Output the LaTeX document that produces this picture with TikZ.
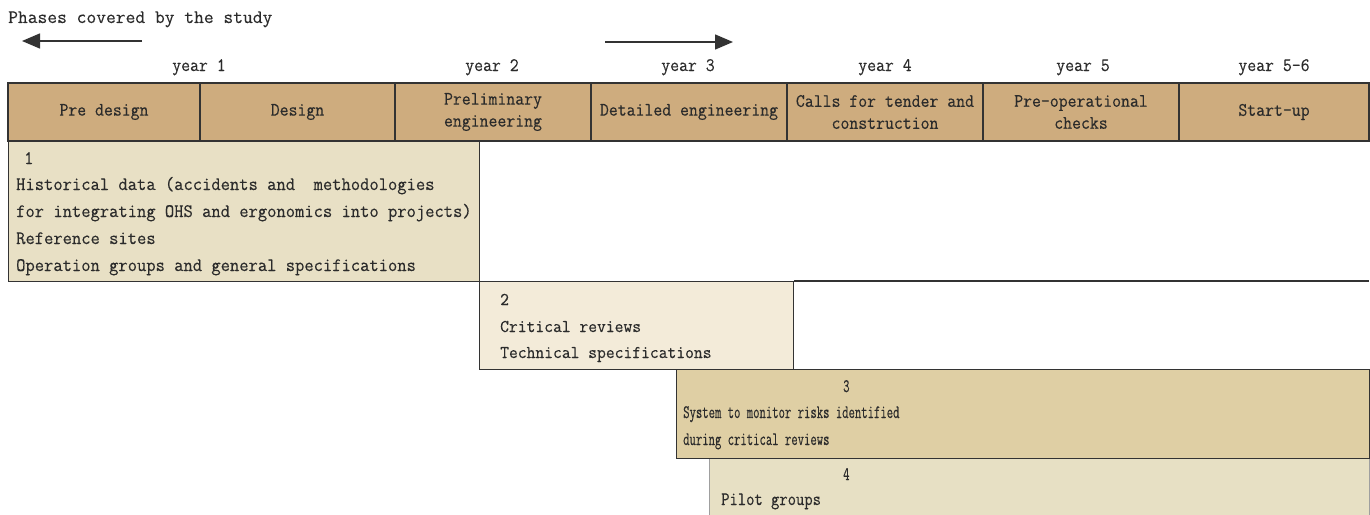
\documentclass[tikz,border=0pt]{standalone}
\usepackage{fontspec}
\newfontfamily\twfont[FakeStretch=0.91,FakeBold=0.3]{Latin Modern Mono}
\newfontfamily\twbody[FakeStretch=0.95,FakeBold=0.3]{Latin Modern Mono}
\newfontfamily\twtitle[FakeStretch=1.0,FakeBold=0.3]{Latin Modern Mono}
\newfontfamily\twcond[FakeStretch=0.65,FakeBold=0.3]{Latin Modern Mono}
\newfontfamily\twsemi[FakeStretch=0.85,FakeBold=0.3]{Latin Modern Mono}
\usetikzlibrary{arrows.meta}
\definecolor{hdr}{HTML}{CEAC7E}
\definecolor{bone}{HTML}{E8E0C5}
\definecolor{btwo}{HTML}{F3EBD9}
\definecolor{bthree}{HTML}{DFCFA4}
\definecolor{bfour}{HTML}{E7E0C4}
\definecolor{lc}{HTML}{333333}
\definecolor{tc}{HTML}{2B2B2B}
\tikzset{
  hcell/.style={draw=lc, line width=1.4pt, fill=hdr, inner sep=0pt, align=center,
    minimum height=58pt, text=tc, font=\twfont\fontsize{19}{22}\selectfont},
  boxnode/.style={draw=lc, line width=1.1pt, inner sep=0pt, anchor=north west},
  txt/.style={anchor=base west, inner sep=0pt, text=tc, font=\twbody\fontsize{19}{22}\selectfont},
  txtsmall/.style={txt, font=\twbody\fontsize{18}{22}\selectfont},
  txtcond/.style={txt, font=\twcond\fontsize{19}{22}\selectfont},
  txtsemi/.style={txt, font=\twsemi\fontsize{19}{22}\selectfont},
  yearlbl/.style={anchor=base, inner sep=0pt, text=tc, font=\twfont\fontsize{19}{22}\selectfont},
  arrowline/.style={line width=1.5pt, draw=lc, -{Triangle[length=18pt,width=15pt]}}
}
\begin{document}
\begin{tikzpicture}[x=1pt,y=-1pt]
\useasboundingbox (0,0) rectangle (1370,514);

% title and arrows
\node[txt, font=\twtitle\fontsize{19}{22}\selectfont] (title) at (8,23) {Phases covered by the study};
\coordinate (la) at (142,41);
\coordinate (lb) at (22,41);
\draw[arrowline] (la) -- (lb);
\coordinate (ra) at (605,42);
\coordinate (rb) at (733,42);
\draw[arrowline] (ra) -- (rb);

% year labels
\node[yearlbl] (y1) at (199,71) {year 1};
\node[yearlbl] (y2) at (492,71) {year 2};
\node[yearlbl] (y3) at (688,71) {year 3};
\node[yearlbl] (y4) at (885,71) {year 4};
\node[yearlbl] (y5) at (1083,71) {year 5};
\node[yearlbl] (y6) at (1274,71) {year 5-6};

% boxes
\node[boxnode, fill=bone, minimum width=471pt, minimum height=140pt] (box1) at (8,141) {};
\node[boxnode, fill=btwo, minimum width=314pt, minimum height=88pt] (box2) at (479,281) {};
\coordinate (rowend) at (1369,281);
\draw[line width=1.1pt, draw=lc] (box2.north east) -- (rowend);
\node[boxnode, draw=gray!75, fill=bfour, minimum width=660pt, minimum height=60pt] (box4) at (709,458) {};
\node[boxnode, fill=bthree, minimum width=693pt, minimum height=89pt] (box3) at (676,369) {};

% header
\node[hcell, minimum width=192pt] (h1) at (104,112) {Pre design};
\node[hcell, minimum width=195pt] (h2) at (297.5,112) {Design};
\node[hcell, minimum width=196pt] (h3) at (493,112) {Preliminary\\engineering};
\node[hcell, minimum width=196pt] (h4) at (689,112) {Detailed engineering};
\node[hcell, minimum width=196pt] (h5) at (885,112) {Calls for tender and\\construction};
\node[hcell, minimum width=196pt] (h6) at (1081,112) {Pre-operational\\checks};
\node[hcell, minimum width=190pt] (h7) at (1274,112) {Start-up};

% box 1 text
\node[txt] (n1) at (24,164) {1};
\node[txt] (t1a) at (16,190) {Historical data (accidents and\ \ methodologies};
\node[txt] (t1b) at (16,217) {for integrating OHS and ergonomics into projects)};
\node[txt] (t1c) at (16,244) {Reference sites};
\node[txt] (t1d) at (16,271) {Operation groups and general specifications};

% box 2 text
\node[txtsmall] (n2) at (500,305) {2};
\node[txtsmall] (t2a) at (500,332) {Critical reviews};
\node[txtsmall] (t2b) at (500,358) {Technical specifications};

% box 3 text
\node[txtcond] (n3) at (843,392) {3};
\node[txtcond] (t3a) at (683,418) {System to monitor risks identified};
\node[txtcond] (t3b) at (683,445) {during critical reviews};

% box 4 text
\node[txtcond] (n4) at (843,480) {4};
\node[txtsemi] (t4a) at (721,505) {Pilot groups};
\end{tikzpicture}
\end{document}
